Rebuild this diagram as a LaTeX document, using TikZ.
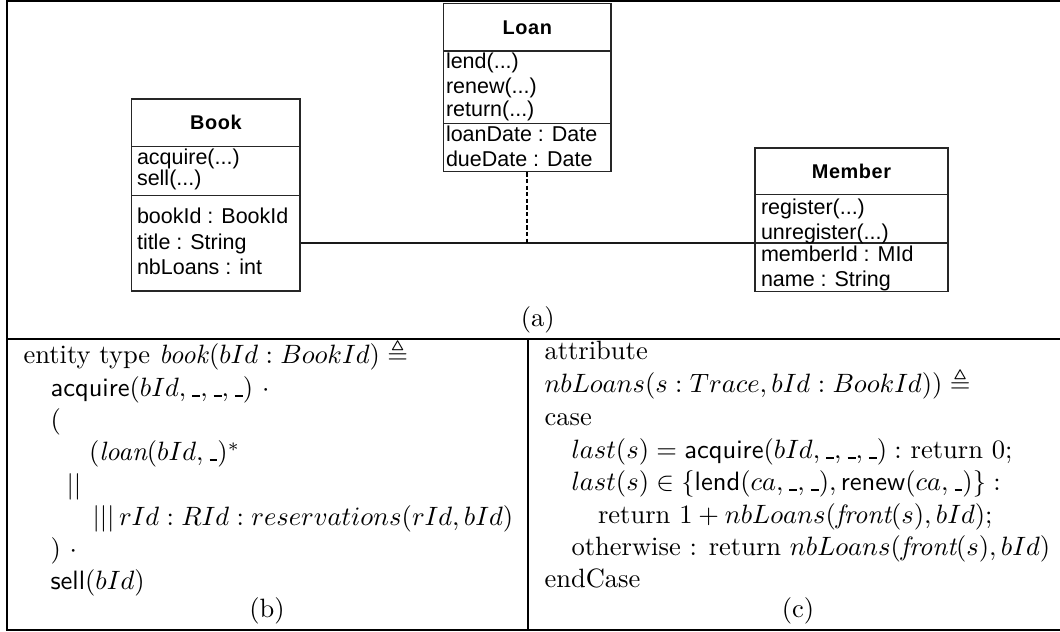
\documentclass[tikz,border=0pt]{standalone}
\usepackage{amsmath,amssymb}
\usepackage{fontspec}
\usetikzlibrary{fit}
\newfontfamily\umlfont{Liberation Sans}
\newfontfamily\umlhead[LetterSpace=3]{Liberation Sans}
\newcommand{\us}{\mbox{\kern.06em\vbox{\hrule width.3em height 0.65pt}}}
\tikzset{
  frame/.style={line width=1pt, line cap=rect},
  umlbox/.style={draw=black!85, line width=0.45pt, inner sep=0pt},
  sep/.style={draw=black!85, line width=0.45pt},
  umltxt/.style={anchor=base west, inner sep=0pt, font=\umlfont\fontsize{8.1}{9.5}\selectfont},
  umlhdr/.style={anchor=center, inner sep=0pt, font=\umlhead\bfseries\fontsize{7.5}{9}\selectfont},
  assoc/.style={line width=0.8pt, black!90},
  dep/.style={line width=0.6pt, dash pattern=on 1.6pt off 0.9pt},
  txt/.style={anchor=base west, inner sep=0pt},
  lbl/.style={anchor=base, inner sep=0pt}
}
\begin{document}
\begin{tikzpicture}[x=0.377pt, y=-0.377pt]
\useasboundingbox (0,0) rectangle (1060,632);
% frame
\draw[frame] (1064,0.8) -- (7,0.8) -- (7,630) -- (1064,630);
\draw[frame] (7,339) -- (1064,339);
\draw[frame] (528,339) -- (528,630);

% --- Book
\coordinate (bookNW) at (131.7,99);
\coordinate (bookSE) at (300,291);
\node[umlbox, fit=(bookNW)(bookSE)] (book) {};
\draw[sep] (131.7,146.7) -- (300,146.7);
\draw[sep] (131.7,195.3) -- (300,195.3);
\node[umlhdr] (bookH) at (216,122) {Book};
\node[umltxt] (bk1) at (136.5,164.5) {acquire(...)};
\node[umltxt] (bk2) at (136.5,186) {sell(...)};
\node[umltxt] (bk3) at (136.5,223.3) {bookId : BookId};
\node[umltxt] (bk4) at (136.5,249.3) {title : String};
\node[umltxt] (bk5) at (136.5,275) {nbLoans : int};

% --- Loan
\coordinate (loanNW) at (443.5,3.3);
\coordinate (loanSE) at (611,171.7);
\node[umlbox, fit=(loanNW)(loanSE)] (loan) {};
\draw[sep] (443.5,51) -- (611,51);
\draw[sep] (443.5,123.3) -- (611,123.3);
\node[umlhdr] (loanH) at (527.3,28) {Loan};
\node[umltxt] (ln1) at (445.5,69) {lend(...)};
\node[umltxt] (ln2) at (445.5,94) {renew(...)};
\node[umltxt] (ln3) at (445.5,116.7) {return(...)};
\node[umltxt] (ln4) at (445.5,141.7) {loanDate : Date};
\node[umltxt] (ln5) at (445.5,166.7) {dueDate : Date};

% --- Member
\coordinate (memNW) at (755,148);
\coordinate (memSE) at (948,291.5);
\node[umlbox, fit=(memNW)(memSE)] (member) {};
\draw[sep] (755,194.5) -- (948,194.5);
\draw[sep] (755,243) -- (948,243);
\node[umlhdr] (memH) at (851.5,171) {Member};
\node[umltxt] (mb1) at (760.5,215) {register(...)};
\node[umltxt] (mb2) at (760.5,239.3) {unregister(...)};
\node[umltxt] (mb3) at (760.5,261.7) {memberId : MId};
\node[umltxt] (mb4) at (760.5,286.7) {name : String};

% --- connectors
\coordinate (assocY) at (0,243);
\draw[assoc] (book.east |- assocY) -- (member.west |- assocY);
\draw[dep] (loan.south) -- (loan.south |- assocY);

\node[lbl] (la) at (537.7,326.7) {(a)};

% --- (b)
\node[txt] (b1) at (23,364) {entity type \textit{book}$(bId : BookId) \triangleq$};
\node[txt] (b2) at (50,397) {\textsf{acquire}$(bId, \us, \us, \us)\ \cdot$};
\node[txt] (b3) at (50,429) {(};
\node[txt] (b4) at (88.6,461) {$(\textit{loan}(bId, \us)^*$};
\node[txt] (b5) at (66,494) {$||$};
\node[txt] (b6) at (92,526) {$|||\, rId : RId : reservations(rId, bId)$};
\node[txt] (b7) at (50,558) {$)\ \cdot$};
\node[txt] (b8) at (50,590) {\textsf{sell}$(bId)$};
\node[lbl] (lb) at (267,618) {(b)};

% --- (c)
\node[txt] (c1) at (544,360) {attribute};
\node[txt] (c2) at (544,393) {$nbLoans(s : Trace, bId : BookId)) \triangleq$};
\node[txt] (c3) at (544,426) {case};
\node[txt] (c4) at (571,459) {$last(s) = \textsf{acquire}(bId, \us, \us, \us) :$ return 0;};
\node[txt] (c5) at (571,491) {$last(s) \in \{\textsf{lend}(ca, \us, \us), \textsf{renew}(ca, \us)\} :$};
\node[txt] (c6) at (597.5,524) {return $1 + nbLoans(\textit{front}(s), bId)$;};
\node[txt] (c7) at (571,556) {otherwise : return $nbLoans(\textit{front}(s), bId)$};
\node[txt] (c8) at (544,588) {endCase};
\node[lbl] (lc) at (798,618) {(c)};
\end{tikzpicture}
\end{document}
